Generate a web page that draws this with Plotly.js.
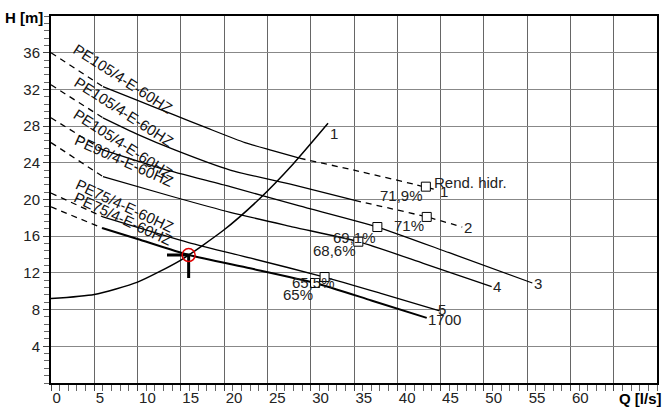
<!DOCTYPE html>
<html>
<head>
<meta charset="utf-8">
<script src="https://cdn.plot.ly/plotly-3.0.1.min.js"></script>
<style>html,body{margin:0;padding:0;background:#fff;}#chart{width:666px;height:412px;}</style>
</head>
<body>
<div id="chart"></div>
<script>
// ---- data (Q in l/s, H in m) ----
const xTickVals = [0,5,10,15,20,25,30,35,40,45,50,55,60,65];
const xTickText = ['0','5','10','15','20','25','30','35','40','45','50','55','60',''];
const yTickVals = [4,8,12,16,20,24,28,32,36];
const yTickText = ['4','8','12','16','20','24','28','32','36'];

// system curve "1"
const sysQ = [0, 5, 10, 15, 20, 24, 28, 32];
const sysH = [9.2, 9.65, 11.0, 13.4, 16.7, 20.0, 23.9, 28.3];

// pump curve 1 (PE105/4-E-60HZ)
const c1DashQ = [0, 6.0];
const c1DashH = [36.0, 32.3];
const c1SolidQ = [6.0, 10, 14, 18, 22.4, 25.5, 28.7];
const c1SolidH = [32.3, 30.8, 29.3, 27.8, 26.2, 25.35, 24.5];
const c1TailQ = [28.7, 35, 42.2, 44.7];
const c1TailH = [24.5, 23.2, 21.6, 21.0];

// pump curve 2 (PE105/4-E-60HZ)
const c2DashQ = [0, 6.0];
const c2DashH = [32.5, 28.9];
const c2SolidQ = [6.0, 10, 14.3, 20.7, 28, 35.1];
const c2SolidH = [28.9, 27.1, 25.4, 23.2, 21.6, 19.9];
const c2TailQ = [35.1, 43.4, 47.5];
const c2TailH = [19.9, 18.1, 17.0];

// pump curve 3 (PE105/4-E-60HZ)
const c3DashQ = [0, 6.0];
const c3DashH = [28.9, 25.4];
const c3SolidQ = [6.0, 13, 20.7, 28.7, 37.7, 46, 55.6];
const c3SolidH = [25.4, 23.3, 21.4, 19.3, 17.0, 14.2, 10.9];

// pump curve 4 (PE90/4-E-60HZ)
const c4DashQ = [0, 6.0];
const c4DashH = [26.2, 22.5];
const c4SolidQ = [6.0, 14.1, 20.7, 28, 35.5, 43, 50.9];
const c4SolidH = [22.5, 20.3, 18.6, 17.0, 15.4, 13.05, 10.5];

// pump curve 5 (PE75/4-E-60HZ)
const c5DashQ = [0, 6.0];
const c5DashH = [20.7, 18.1];
const c5SolidQ = [6.0, 15.9, 23.1, 31.6, 38, 44.9];
const c5SolidH = [18.1, 15.3, 13.6, 11.55, 9.8, 7.85];

// pump curve 6 (PE75/4-E-60HZ, selected)
const c6DashQ = [0, 5.9];
const c6DashH = [19.2, 16.9];
const c6SolidQ = [5.9, 10, 15.9, 23.0, 30.5, 37, 43.4];
const c6SolidH = [16.9, 15.7, 13.95, 12.5, 10.9, 9.0, 7.1];

// best-efficiency squares
const sqQ = [43.3, 43.4, 37.7, 35.5, 31.6, 30.5];
const sqH = [21.4, 18.1, 17.0, 15.4, 11.55, 10.9];

// operating point
const opQ = [15.9];
const opH = [13.95];
const tMarkQ = [13.4, 15.9, 15.9];
const tMarkH = [13.95, 13.95, 11.45];

// labels
const pumpNames = ['PE105/4-E-60HZ','PE105/4-E-60HZ','PE105/4-E-60HZ','PE90/4-E-60HZ','PE75/4-E-60HZ','PE75/4-E-60HZ'];
const pumpLabelQ = [8.3, 8.4, 8.3, 8.4, 8.5, 8.3];
const pumpLabelH = [33.2, 29.6, 26.1, 24.2, 19.4, 17.9];
const pumpLabelAngle = [33, 33, 33, 24, 25, 25];

const effText = ['71,9%','71%','69,1%','68,6%','65,5%','65%'];
const effQ = [40.5, 41.4, 35.0, 32.8, 30.3, 28.5];
const effH = [20.4, 17.2, 15.9, 14.4, 10.9, 9.7];

const endText = ['1','Rend. hidr.','1','2','3','4','5','1700'];
const endQ = [32.7, 44.0, 45.4, 48.2, 56.2, 51.5, 45.2, 45.4];
const endH = [27.2, 21.9, 20.9, 16.9, 10.8, 10.5, 8.0, 6.9];
const endAnchor = ['center','left','center','center','center','center','center','center'];

// ---- build ----
const FONT = 'Liberation Sans, Arial, sans-serif';
const traces = [];
function line(q, h, dash, w) {
  traces.push({x:q, y:h, type:'scatter', mode:'lines', hoverinfo:'skip',
    line:{color:'#000', width:w || 1.3, dash: dash ? '6px,5px' : 'solid', shape:'spline', smoothing:0.6}});
}
line(sysQ, sysH, false, 1.5);
line(c1DashQ, c1DashH, true); line(c1SolidQ, c1SolidH, false); line(c1TailQ, c1TailH, true);
line(c2DashQ, c2DashH, true); line(c2SolidQ, c2SolidH, false); line(c2TailQ, c2TailH, true);
line(c3DashQ, c3DashH, true); line(c3SolidQ, c3SolidH, false);
line(c4DashQ, c4DashH, true); line(c4SolidQ, c4SolidH, false);
line(c5DashQ, c5DashH, true); line(c5SolidQ, c5SolidH, false);
line(c6DashQ, c6DashH, true); line(c6SolidQ, c6SolidH, false, 2);

traces.push({x:tMarkQ, y:tMarkH, type:'scatter', mode:'lines', hoverinfo:'skip',
  line:{color:'#000', width:3}});
traces.push({x:sqQ, y:sqH, type:'scatter', mode:'markers', hoverinfo:'skip',
  marker:{symbol:'square', size:9, color:'#fff', line:{color:'#000', width:1}}});
traces.push({x:opQ, y:opH, type:'scatter', mode:'markers', hoverinfo:'skip',
  marker:{symbol:'circle-open', size:13, color:'#e00000', line:{color:'#e00000', width:1.5}}});

const annotations = [];
pumpNames.forEach((t,i) => annotations.push({x:pumpLabelQ[i], y:pumpLabelH[i], xref:'x', yref:'y',
  text:t, showarrow:false, textangle:pumpLabelAngle[i], xanchor:'center', yanchor:'middle',
  font:{family:FONT, size:15, color:'#111'}}));
effText.forEach((t,i) => annotations.push({x:effQ[i], y:effH[i], xref:'x', yref:'y',
  text:t, showarrow:false, xanchor:'center', yanchor:'middle',
  font:{family:FONT, size:15, color:'#222'}}));
endText.forEach((t,i) => annotations.push({x:endQ[i], y:endH[i], xref:'x', yref:'y',
  text:t, showarrow:false, xanchor:endAnchor[i], yanchor:'middle',
  font:{family:FONT, size:15, color:'#222'}}));
annotations.push({x:-0.045, y:0.997, xref:'paper', yref:'paper', text:'<b>H [m]</b>', showarrow:false,
  xanchor:'center', yanchor:'middle', font:{family:FONT, size:15, color:'#000'}});
annotations.push({x:0.972, y:-0.042, xref:'paper', yref:'paper', text:'<b>Q [l/s]</b>', showarrow:false,
  xanchor:'center', yanchor:'middle', font:{family:FONT, size:15, color:'#000'}});

const layout = {
  width:666, height:412,
  margin:{l:51, r:9, t:16, b:29, pad:0},
  paper_bgcolor:'#fff', plot_bgcolor:'#fff',
  showlegend:false,
  xaxis:{range:[0,70], tickvals:xTickVals, ticktext:xTickText, ticklabelposition:'outside right',
    ticks:'outside', ticklen:6, tickcolor:'#444', tickwidth:1,
    showgrid:true, gridcolor:'#666', gridwidth:1, zeroline:false,
    showline:true, linecolor:'#000', linewidth:2, mirror:true,
    tickfont:{family:FONT, size:15, color:'#222'},
    minor:{tick0:0, dtick:1, ticks:'outside', ticklen:6, tickcolor:'#666', showgrid:false}},
  yaxis:{range:[0,40], tickvals:yTickVals, ticktext:yTickText,
    ticks:'outside', ticklen:6, tickcolor:'#444', tickwidth:1,
    showgrid:true, gridcolor:'#888', gridwidth:1, zeroline:false,
    showline:true, linecolor:'#000', linewidth:2, mirror:true,
    tickfont:{family:FONT, size:15, color:'#222'},
    minor:{tick0:0, dtick:0.8, ticks:'outside', ticklen:5, tickcolor:'#666', showgrid:false}},
  annotations:annotations
};
Plotly.newPlot('chart', traces, layout, {staticPlot:true, displayModeBar:false});
</script>
</body>
</html>
